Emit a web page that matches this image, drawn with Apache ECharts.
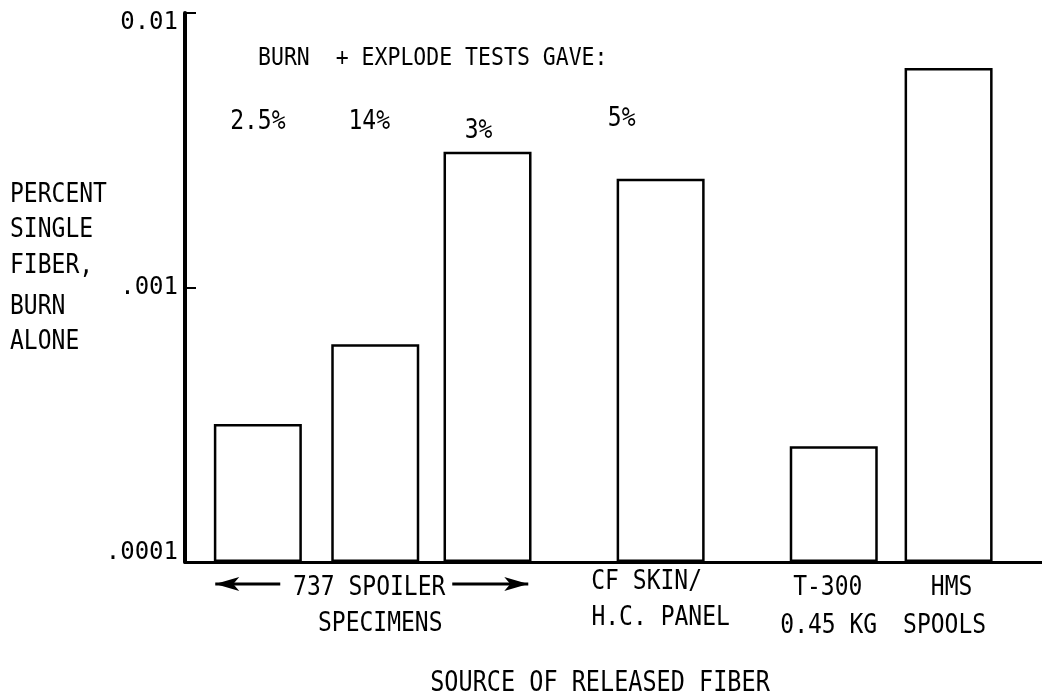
<!DOCTYPE html>
<html>
<head>
<meta charset="utf-8">
<script src="https://cdn.jsdelivr.net/npm/echarts@6/dist/echarts.min.js"></script>
<style>
  html, body { margin: 0; padding: 0; background: #fff; }
  #main { width: 1042px; height: 700px; }
</style>
</head>
<body>
<div id="main"></div>
<script>
// sources of released fiber (one bar each)
var sources = ['737 spoiler 1', '737 spoiler 2', '737 spoiler 3', 'CF skin / H.C. panel', 'T-300 0.45 kg', 'HMS spools'];
// percent single fiber, burn alone
var burnAlone = [0.000318, 0.000621, 0.00312, 0.00249, 0.000264, 0.00631];
// where each bar sits along the (hidden) x axis, 0..10
var slotPos = [0.85, 2.22, 3.53, 5.55, 7.57, 8.91];
// burn + explode results, printed above the first four bars
var explodeNotes = ['2.5%', '14%', '3%', '5%'];
// y ticks
var yTicks = [0.0001, 0.001, 0.01];
var yTickLabels = ['.0001', '.001', '0.01'];

var FONT = '"DejaVu Sans Mono", monospace';

var myChart = echarts.init(document.getElementById('main'));

myChart.setOption({
  backgroundColor: '#fff',
  animation: false,
  grid: {
    left: 185,
    right: 0,
    top: 13,
    bottom: 138,
    outerBoundsMode: 'none'
  },
  xAxis: {
    type: 'value',
    min: 0,
    max: 10,
    axisLine: { onZero: false, lineStyle: { color: '#000', width: 3 } },
    axisTick: { show: false },
    axisLabel: { show: false },
    splitLine: { show: false }
  },
  yAxis: {
    type: 'log',
    logBase: 10,
    min: yTicks[0],
    max: yTicks[yTicks.length - 1],
    startValue: yTicks[0],
    axisLine: { show: true, lineStyle: { color: '#000', width: 4 } },
    axisTick: { show: true, inside: true, length: 11, lineStyle: { color: '#000', width: 2 } },
    splitLine: { show: false },
    axisLabel: {
      color: '#000',
      fontFamily: FONT,
      fontSize: 24,
      margin: 7,
      formatter: function (v) {
        var e = Math.round(Math.log10(v));
        for (var i = 0; i < yTicks.length; i++) {
          if (Math.round(Math.log10(yTicks[i])) === e) {
            // top label hangs below its tick, bottom one sits above the base line
            if (i === yTicks.length - 1) return '{top|' + yTickLabels[i] + '}';
            if (i === 0) return '{bot|' + yTickLabels[i] + '}';
            return yTickLabels[i];
          }
        }
        return '';
      },
      rich: {
        top: { fontFamily: FONT, fontSize: 24, color: '#000', padding: [20, 0, 0, 0] },
        bot: { fontFamily: FONT, fontSize: 24, color: '#000', padding: [0, 0, 18, 0] }
      }
    }
  },
  series: [{
    name: 'burn alone',
    type: 'bar',
    barWidth: 88,
    data: burnAlone.map(function (v, i) { return [slotPos[i], v]; }),
    itemStyle: {
      color: '#fff',
      borderColor: '#000',
      borderWidth: 2.5
    }
  }]
});

// text pieces placed against the bars
function barX(i) {
  return myChart.convertToPixel({ xAxisIndex: 0 }, slotPos[i]);
}

function txt(str, x, y, align, size) {
  return {
    type: 'text',
    x: x,
    y: y,
    scaleY: 1.18,
    style: {
      text: str,
      fill: '#000',
      font: (size || 23) + 'px ' + FONT,
      align: align || 'center',
      verticalAlign: 'middle'
    }
  };
}

function arrow(x1, x2, y, headAtStart) {
  var hx = headAtStart ? x1 : x2;
  var dir = headAtStart ? 1 : -1;
  return [
    { type: 'line', shape: { x1: x1, y1: y, x2: x2, y2: y }, style: { stroke: '#000', lineWidth: 3 } },
    { type: 'polygon', shape: { points: [[hx, y], [hx + dir * 24, y - 7], [hx + dir * 18, y], [hx + dir * 24, y + 7]] }, style: { fill: '#000' } }
  ];
}

var g = [];

// heading
g.push(txt('BURN  + EXPLODE TESTS GAVE:', 258, 58, 'left', 21.5));

// burn + explode percentages
var noteDx = [0, -6, -9, -39];
var noteY = [122, 122, 131, 119];
explodeNotes.forEach(function (n, i) {
  g.push(txt(n, barX(i) + noteDx[i], noteY[i]));
});

// y axis title
var yName = ['PERCENT', 'SINGLE', 'FIBER,', 'BURN', 'ALONE'];
var yNameY = [195, 230, 266, 307, 342];
yName.forEach(function (s, i) { g.push(txt(s, 10, yNameY[i], 'left')); });

// category labels under the axis
var c2 = barX(1);
g.push(txt('737 SPOILER', c2 - 6, 588));
g.push(txt('SPECIMENS', c2 + 5, 624));
g = g.concat(arrow(c2 - 160, c2 - 95, 584, true));
g = g.concat(arrow(c2 + 77, c2 + 153, 584, false));

var c4 = barX(3);
g.push(txt('CF SKIN/', c4 - 14, 582));
g.push(txt('H.C. PANEL', c4, 618));

var c5 = barX(4);
g.push(txt('T-300', c5 - 6, 588));
g.push(txt('0.45 KG', c5 - 5, 626));

var c6 = barX(5);
g.push(txt('HMS', c6 + 3, 588));
g.push(txt('SPOOLS', c6 - 4, 626));

// x axis title
g.push(txt('SOURCE OF RELEASED FIBER', 600, 684, 'center', 23.5));

myChart.setOption({ graphic: { elements: g } });
</script>
</body>
</html>
